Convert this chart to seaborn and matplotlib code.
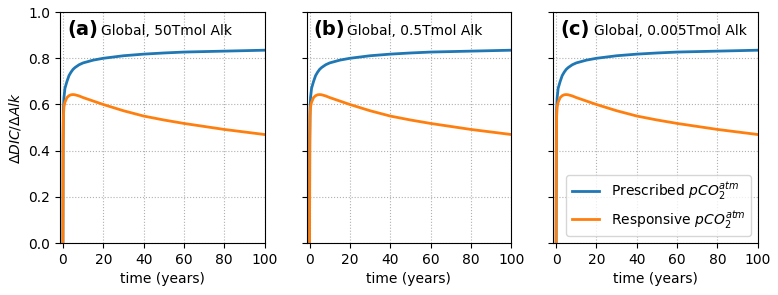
import numpy as np
import pandas as pd
import seaborn as sns
import matplotlib
matplotlib.use("Agg")
import matplotlib.pyplot as plt

# time axis (years) and efficiency curves
time = [0, 0.1, 0.25, 0.5, 1, 2, 3, 4, 5, 6, 8, 10, 15, 20, 30, 40, 50, 60, 70, 80, 90, 100]
prescribed = [0, 0.45, 0.58, 0.63, 0.67, 0.70, 0.725, 0.74, 0.752, 0.76, 0.772, 0.78, 0.792,
              0.80, 0.811, 0.818, 0.823, 0.827, 0.829, 0.831, 0.833, 0.835]
responsive = [0, 0.4, 0.55, 0.59, 0.61, 0.63, 0.638, 0.642, 0.643, 0.642, 0.637, 0.63, 0.615,
              0.6, 0.573, 0.55, 0.533, 0.518, 0.505, 0.492, 0.481, 0.47]

panel_labels = ["(a)", "(b)", "(c)"]
panel_titles = ["Global, 50Tmol Alk", "Global, 0.5Tmol Alk", "Global, 0.005Tmol Alk"]
series_names = ["Prescribed $pCO_2^{atm}$", "Responsive $pCO_2^{atm}$"]

df = pd.DataFrame({
    "time": time * 2,
    "eff": prescribed + responsive,
    "run": [series_names[0]] * len(time) + [series_names[1]] * len(time),
})

fig, axes = plt.subplots(1, 3, figsize=(7.78, 2.95), dpi=100, sharey=True)
plt.subplots_adjust(left=0.077, right=0.974, top=0.959, bottom=0.176, wspace=0.205)

for i, ax in enumerate(axes):
    sns.lineplot(data=df, x="time", y="eff", hue="run",
                 palette=["#1f77b4", "#ff7f0e"], linewidth=2, ax=ax,
                 legend=(i == 2))
    ax.set_xlim(-1.5, 100)
    ax.set_ylim(0, 1)
    ax.set_xticks([0, 20, 40, 60, 80, 100])
    ax.set_yticks([0, 0.2, 0.4, 0.6, 0.8, 1.0])
    ax.grid(True, linestyle=":", color="#b0b0b0")
    ax.set_xlabel("time (years)")
    ax.set_ylabel("")
    ax.text(0.035, 0.925, panel_labels[i], transform=ax.transAxes,
            fontsize=14, fontweight="bold", va="center")
    ax.text(0.2, 0.92, panel_titles[i], transform=ax.transAxes,
            fontsize=10, va="center")

axes[0].set_ylabel(r"$\Delta DIC/\Delta Alk$")
leg = axes[2].legend(loc="lower right", fontsize=10, title=None)

plt.savefig("out.png", dpi=100)
